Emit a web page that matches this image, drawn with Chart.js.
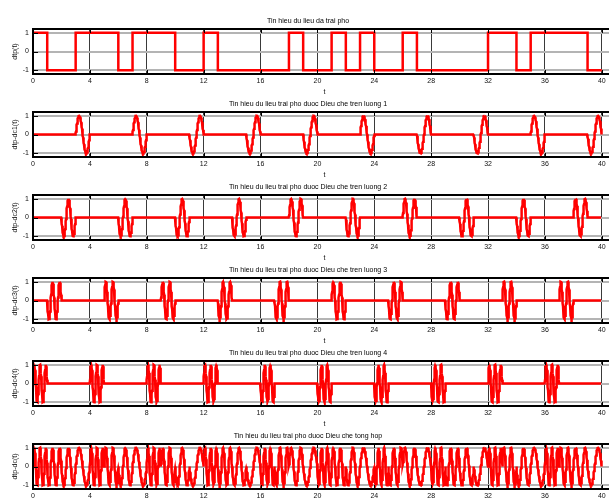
<!DOCTYPE html>
<html><head><meta charset="utf-8">
<script src="https://cdn.jsdelivr.net/npm/chart.js@4.4.1/dist/chart.umd.min.js"></script>
<style>
html,body{margin:0;padding:0;background:#fff;overflow:hidden;width:609px;height:504px;position:relative;}
.pane{position:absolute;left:0;}
</style></head><body>
<script>
// data bits (one bit per unit of t)
const bits = [1,-1,-1,1, 1,1,-1,1, 1,1,-1,-1, 1,-1,-1,-1, -1,-1,1,-1,
              -1,1,-1,1, -1,-1,1,-1, -1,-1,-1,-1, 1,1,-1,1, 1,1,1,-1];
// carrier frequency (cycles per unit t) and time slot of each lane (luong 1..4)
const laneFreq = [1, 1.5, 2, 2.5];
const laneSlot = [3, 2, 1, 0];
const symbolLen = 4;
const xTicks = [0,4,8,12,16,20,24,28,32,36,40];
const yTicks = [-1,0,1];
const xRange = [0, 41];
const yRange = [-1.2, 1.2];
const titles = [
  'Tin hieu du lieu da trai pho',
  'Tin hieu du lieu trai pho duoc Dieu che tren luong 1',
  'Tin hieu du lieu trai pho duoc Dieu che tren luong 2',
  'Tin hieu du lieu trai pho duoc Dieu che tren luong 3',
  'Tin hieu du lieu trai pho duoc Dieu che tren luong 4',
  'Tin hieu du lieu trai pho duoc Dieu che tong hop'
];
const yLabels = ['dtp(t)','dtp-dc1(t)','dtp-dc2(t)','dtp-dc3(t)','dtp-dc4(t)','dtp-dc(t)'];
const xLabel = 't';
const samplesPerUnit = 80;

function dataSeries(){
  const pts = bits.map((b,i)=>({x:i,y:b}));
  pts.push({x:bits.length,y:bits[bits.length-1]});
  return pts;
}
function laneValue(L,t){
  const k = Math.min(Math.floor(t), bits.length-1);
  if (k % symbolLen !== laneSlot[L]) return 0;
  return bits[k]*Math.sin(2*Math.PI*laneFreq[L]*t);
}
function laneSeries(lanes){
  const pts=[]; const N=bits.length*samplesPerUnit;
  for(let j=0;j<=N;j++){
    const t=j/samplesPerUnit;
    let y=0; lanes.forEach(L=>{y+=laneValue(L,t);});
    pts.push({x:t,y:y});
  }
  return pts;
}
const series = [dataSeries(), laneSeries([0]), laneSeries([1]), laneSeries([2]), laneSeries([3]), laneSeries([0,1,2,3])];

const FONT = '"Liberation Sans", Arial, sans-serif';
const framePlugin = {
  id:'frame',
  afterDatasetsDraw(chart){
    const {ctx, chartArea:a, scales:{x,y}} = chart;
    ctx.save();
    ctx.strokeStyle='#000';
    ctx.lineWidth=1;
    xTicks.forEach(v=>{const px=Math.round(x.getPixelForValue(v))+0.5;
      ctx.beginPath();ctx.moveTo(px,a.top);ctx.lineTo(px,a.top+4);ctx.moveTo(px,a.bottom);ctx.lineTo(px,a.bottom-4);ctx.stroke();});
    yTicks.forEach(v=>{const py=Math.round(y.getPixelForValue(v))+0.5;
      ctx.beginPath();ctx.moveTo(a.left,py);ctx.lineTo(a.left+5,py);ctx.moveTo(a.right,py);ctx.lineTo(a.right-5,py);ctx.stroke();});
    ctx.lineWidth=2;
    ctx.strokeRect(a.left,a.top,a.right-a.left,a.bottom-a.top);
    ctx.restore();
  }
};

const W = 616, H = 82;
series.forEach((data,i)=>{
  const div=document.createElement('div');
  div.className='pane';
  div.style.top=(18+83*i)+'px';
  div.style.width=W+'px'; div.style.height=H+'px';
  const cv=document.createElement('canvas');
  cv.width=W; cv.height=H; cv.style.width=W+'px'; cv.style.height=H+'px';
  div.appendChild(cv); document.body.appendChild(div);
  new Chart(cv,{
    type:'line',
    data:{datasets:[{data:data,borderColor:'#ff0000',borderWidth:2.5,pointRadius:0,
      stepped: i===0 ? 'before' : false, tension:0, fill:false}]},
    options:{
      responsive:false, animation:false, devicePixelRatio:1,
      layout:{padding:0},
      plugins:{legend:{display:false}, tooltip:{enabled:false},
        title:{display:true,text:titles[i],color:'#000',font:{family:FONT,size:7,weight:'normal',lineHeight:1},padding:{top:0,bottom:4}}},
      scales:{
        x:{type:'linear',min:xRange[0],max:xRange[1],
          afterBuildTicks:s=>{s.ticks=xTicks.map(v=>({value:v}));},
          afterFit:s=>{s.height=26;},
          grid:{color:'#3a3a3a',lineWidth:1,drawTicks:false},
          border:{display:false},
          ticks:{color:'#111',padding:3,maxRotation:0,autoSkip:false,font:{family:FONT,size:7}},
          title:{display:true,text:xLabel,color:'#111',font:{family:FONT,size:7,lineHeight:1.2},padding:{top:0,bottom:4}}},
        y:{type:'linear',min:yRange[0],max:yRange[1],
          afterBuildTicks:s=>{s.ticks=yTicks.map(v=>({value:v}));},
          afterFit:s=>{s.width=33;},
          grid:{color:'#b4b4b4',lineWidth:2,drawTicks:false},
          border:{display:false},
          ticks:{color:'#111',padding:4,font:{family:FONT,size:7}},
          title:{display:true,text:yLabels[i],color:'#111',font:{family:FONT,size:7,lineHeight:1.2},padding:{top:10.8,bottom:0}}}
      }
    },
    plugins:[framePlugin]
  });
});
</script>
</body></html>
